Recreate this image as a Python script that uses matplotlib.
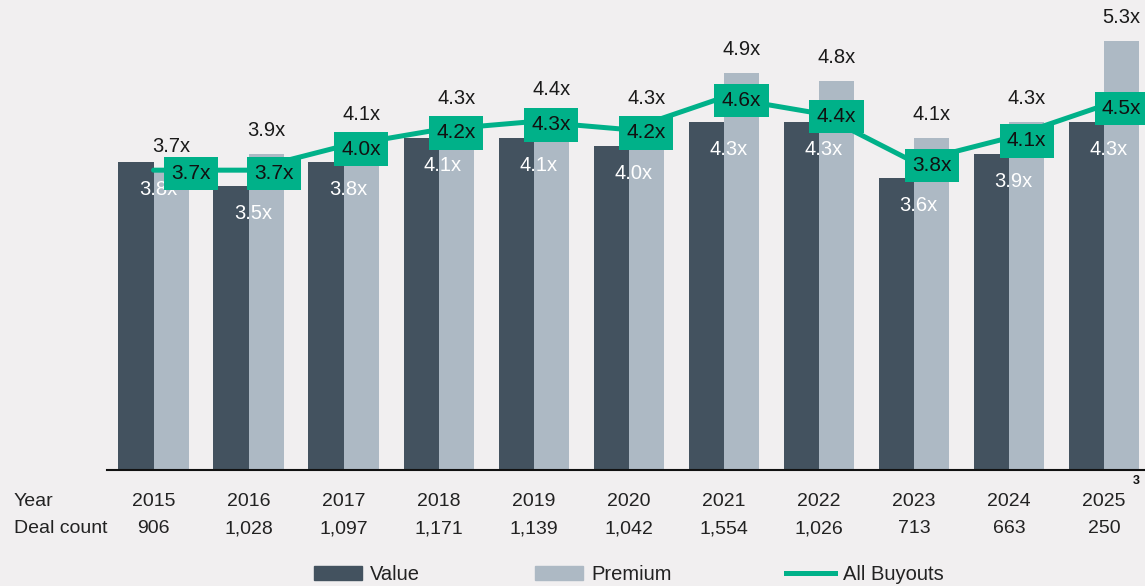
import matplotlib.pyplot as plt
from matplotlib.patches import Patch
from matplotlib.lines import Line2D
import numpy as np

plt.rcParams['font.family'] = ['Liberation Sans', 'DejaVu Sans']

years = ['2015', '2016', '2017', '2018', '2019', '2020', '2021', '2022', '2023', '2024', '2025']
deal_count = ['906', '1,028', '1,097', '1,171', '1,139', '1,042', '1,554', '1,026', '713', '663', '250']
value = [3.8, 3.5, 3.8, 4.1, 4.1, 4.0, 4.3, 4.3, 3.6, 3.9, 4.3]
premium = [3.7, 3.9, 4.1, 4.3, 4.4, 4.3, 4.9, 4.8, 4.1, 4.3, 5.3]
all_buyouts = [3.7, 3.7, 4.0, 4.2, 4.3, 4.2, 4.6, 4.4, 3.8, 4.1, 4.5]

bg = '#F1EFF0'
c_value = '#43525F'
c_prem = '#ADB9C4'
c_green = '#00B189'
txt = '#222222'

fig = plt.figure(figsize=(11.45, 5.86), dpi=100, facecolor=bg)
ax = fig.add_axes([0.0934, 0.198, 0.9066, 0.802])
ax.set_facecolor(bg)

x = np.arange(len(years))
w = 0.37
ax.bar(x - w/2, value, w, color=c_value, zorder=2)
ax.bar(x + w/2, premium, w, color=c_prem, zorder=2)
ax.plot(x, all_buyouts, color=c_green, lw=3.6, zorder=3, solid_capstyle='round')

# labels on bars and the green boxes
for i in range(len(years)):
    ax.text(x[i] - w/2 + 0.03, value[i] - 0.34, f'{value[i]:.1f}x', color='white',
            fontsize=14.5, ha='left', va='center', zorder=4)
    ax.text(x[i] + w/2, premium[i] + 0.29, f'{premium[i]:.1f}x', color='#1a1a1a',
            fontsize=14.5, ha='center', va='center', zorder=4)
    dx = w/2
    if i == 0:
        dx = 0.39
    elif i == 1:
        dx = 0.27
    ax.text(x[i] + dx, all_buyouts[i] - 0.04, f'{all_buyouts[i]:.1f}x', color='#111111',
            fontsize=15, ha='center', va='center', zorder=5,
            bbox=dict(boxstyle='square,pad=0.35', fc=c_green, ec='none'))

ax.set_xlim(-0.49, 10.43)
ax.set_ylim(0, 5.8)
for s in ['top', 'right', 'left']:
    ax.spines[s].set_visible(False)
ax.spines['bottom'].set_linewidth(1.5)
ax.spines['bottom'].set_color('#111111')
ax.set_xticks([])
ax.set_yticks([])

# year / deal count rows under the axis
y_year = 1 - 506/586
y_deal = 1 - 533/586
for i in range(len(years)):
    xf = fig.transFigure.inverted().transform(ax.transData.transform((x[i], 0)))[0]
    fig.text(xf, y_year, years[i], ha='center', va='baseline', fontsize=14, color=txt)
    fig.text(xf, y_deal, deal_count[i], ha='center', va='baseline', fontsize=14, color=txt)
fig.text(14/1145, y_year, 'Year', ha='left', va='baseline', fontsize=14, color=txt)
fig.text(14/1145, y_deal, 'Deal count', ha='left', va='baseline', fontsize=14, color=txt)
fig.text(1136/1145, 1 - 481/586, '3', ha='center', va='center', fontsize=9, fontweight='bold', color='#111111')

handles = [Patch(color=c_value), Patch(color=c_prem), Line2D([], [], color=c_green, lw=3.6)]
fig.legend(handles, ['Value', 'Premium', 'All Buyouts'], loc='center', bbox_to_anchor=(0.549, 0.02),
           ncol=3, frameon=False, fontsize=14.5, handlelength=2.4, handleheight=0.7,
           columnspacing=5.7, handletextpad=0.4, labelcolor=txt)

fig.savefig('out.png', dpi=100, facecolor=bg)
